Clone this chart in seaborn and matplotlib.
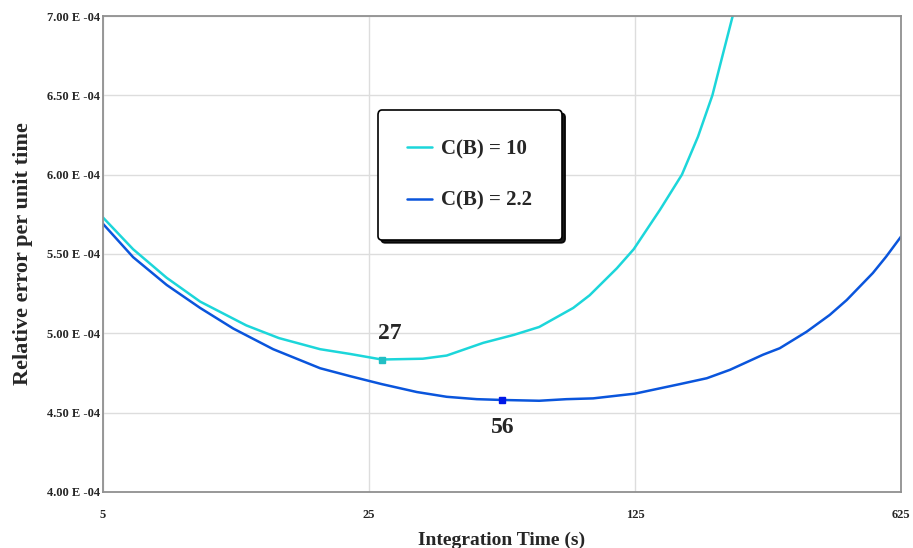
import numpy as np
import pandas as pd
import matplotlib
matplotlib.use('Agg')
import matplotlib.pyplot as plt
import seaborn as sns
from matplotlib.ticker import FixedLocator, FuncFormatter, NullLocator

# 数据（纵轴单位：1E-04）
t_cb10 = [5, 6, 7.35, 9, 11.9, 14.5, 18.6, 22.3, 27, 34.6, 40, 49.9, 60, 70, 86, 95,
          112, 124, 145.5, 166, 183, 199.6, 213, 225.7, 240]
err_cb10 = [5.73, 5.53, 5.35, 5.20, 5.05, 4.97, 4.90, 4.87, 4.835, 4.84, 4.86, 4.94, 4.99,
            5.04, 5.16, 5.24, 5.41, 5.53, 5.78, 6.00, 6.24, 6.50, 6.765, 7.00, 7.33]

t_cb22 = [5, 6, 7.35, 9, 11, 14, 18.6, 22.3, 27, 33.4, 40, 48, 56, 70, 82.5, 97, 125,
          164, 193, 222, 271, 300, 353, 406, 450, 527, 571, 625]
err_cb22 = [5.69, 5.48, 5.305, 5.16, 5.03, 4.90, 4.78, 4.73, 4.68, 4.63, 4.60, 4.585, 4.58,
            4.575, 4.585, 4.59, 4.62, 4.68, 4.717, 4.77, 4.865, 4.906, 5.01, 5.116, 5.21,
            5.38, 5.483, 5.61]

min_cb10 = (27, 4.835)
min_cb22 = (56, 4.58)

x_ticks = [5, 25, 125, 625]
y_ticks = [4.0, 4.5, 5.0, 5.5, 6.0, 6.5, 7.0]

df = pd.concat([
    pd.DataFrame({'t': t_cb10, 'err': err_cb10, 'series': 'C(B) = 10'}),
    pd.DataFrame({'t': t_cb22, 'err': err_cb22, 'series': 'C(B) = 2.2'}),
], ignore_index=True)

sns.set_style('white')
plt.rcParams['font.family'] = ['Liberation Serif', 'DejaVu Serif']
plt.rcParams['font.weight'] = 'bold'

fig = plt.figure(figsize=(9.13, 5.48), dpi=100)
ax = fig.add_axes([0.1128, 0.1022, 0.8741, 0.8686])

palette = {'C(B) = 10': '#1CD6DA', 'C(B) = 2.2': '#0A55DC'}
sns.lineplot(data=df, x='t', y='err', hue='series', palette=palette, linewidth=1.8,
             sort=True, estimator=None, ax=ax)

# 最小值标记
ax.plot(*min_cb10, marker='s', markersize=5, color='#22BFC4', zorder=5)
ax.plot(*min_cb22, marker='s', markersize=5, color='#0018E8', zorder=5)
ax.annotate('27', min_cb10, xytext=(6, 19), textcoords='offset points', ha='center',
            va='center', fontsize=17, fontweight='bold')
ax.annotate('56', min_cb22, xytext=(0, -20), textcoords='offset points', ha='center',
            va='center', fontsize=17, fontweight='bold')

ax.set_xscale('log', base=5)
ax.set_xlim(5, 625)
ax.set_ylim(4.0, 7.0)
ax.xaxis.set_major_locator(FixedLocator(x_ticks))
ax.xaxis.set_minor_locator(NullLocator())
ax.xaxis.set_major_formatter(FuncFormatter(lambda v, p: f'{v:g}'))
ax.yaxis.set_major_locator(FixedLocator(y_ticks))
ax.yaxis.set_major_formatter(FuncFormatter(lambda v, p: f'{v:.2f} E -04'))
ax.tick_params(axis='both', length=0, labelsize=9)
ax.tick_params(axis='x', pad=12)
ax.tick_params(axis='y', pad=2)

ax.grid(True, color='#DDDDDD', linewidth=1)
for s in ax.spines.values():
    s.set_color('#909090')
    s.set_linewidth(1.3)

ax.set_xlabel('Integration Time (s)', fontsize=14, fontweight='bold', labelpad=8)
ax.set_ylabel('Relative error per unit time', fontsize=16, fontweight='bold', labelpad=10)

leg = ax.legend(loc='upper left', bbox_to_anchor=(0.345, 0.7015, 0.2306, 0.1),
                mode='expand', fontsize=15, frameon=True, fancybox=True,
                shadow={'color': 'black', 'alpha': 0.9}, framealpha=1, edgecolor='black',
                handlelength=1.2, labelspacing=1.5, borderpad=1.4, handletextpad=0.4,
                borderaxespad=0)
leg.get_frame().set_linewidth(1.2)
for txt in leg.get_texts():
    txt.set_fontweight('bold')

fig.savefig('out.png', dpi=100)
